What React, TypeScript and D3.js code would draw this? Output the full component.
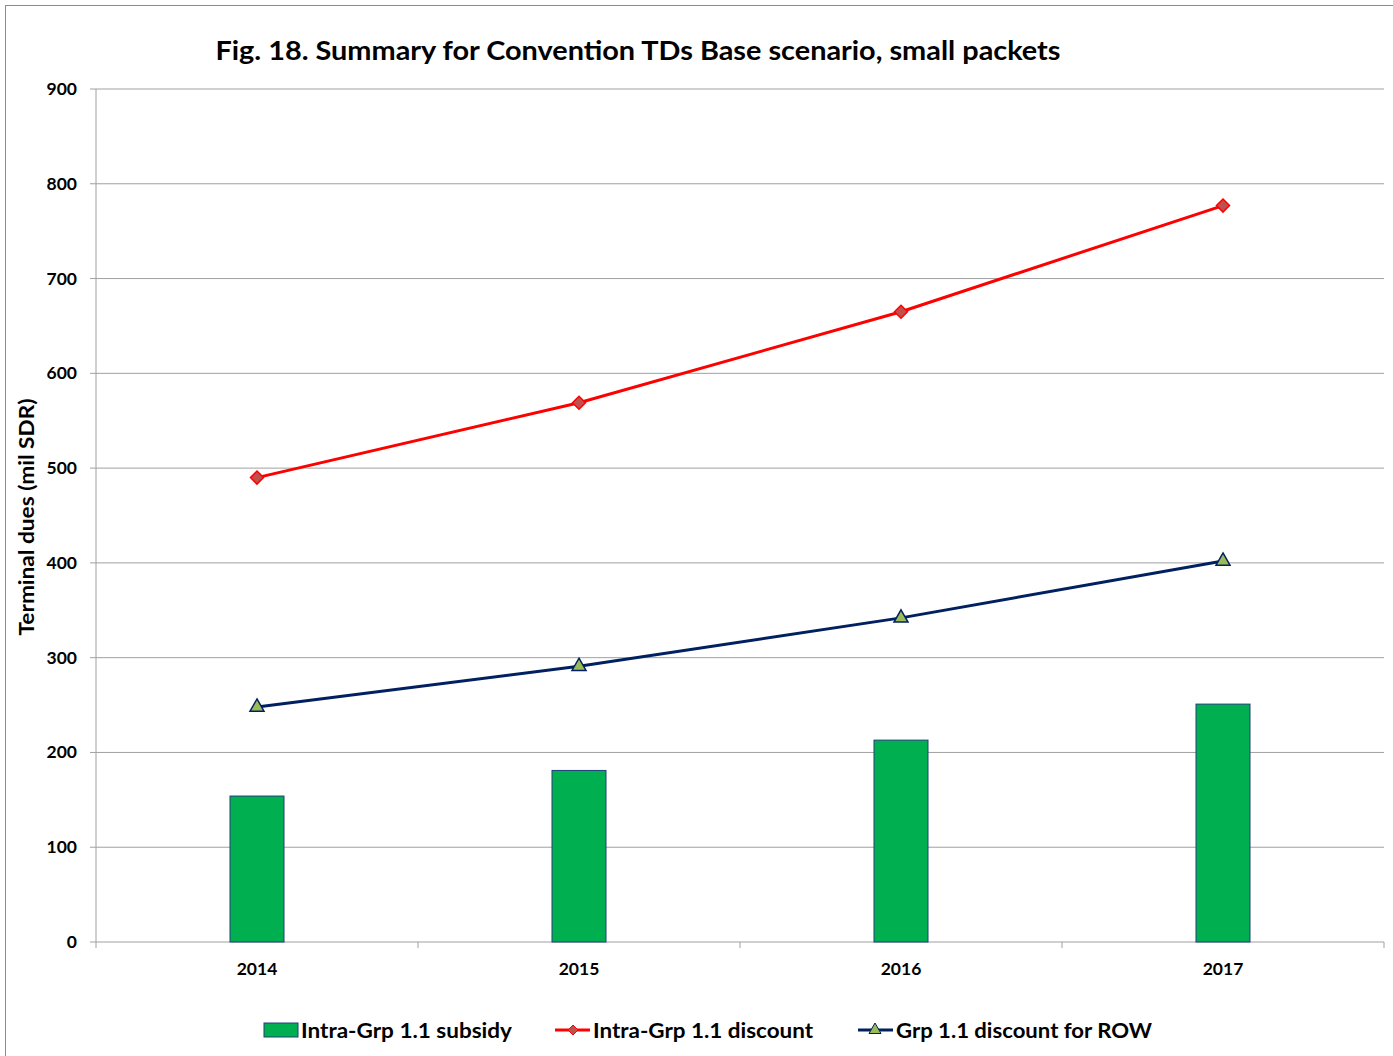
import React from "react";
import * as d3 from "d3";

const years = ["2014", "2015", "2016", "2017"];
const subsidy = [154, 181, 213, 251];
const discount = [490, 569, 665, 777];
const rowDiscount = [248, 291, 342, 402];
const yTicks = [0, 100, 200, 300, 400, 500, 600, 700, 800, 900];

const W = 1393;
const H = 1056;
const FONT = "Lato, 'Open Sans', sans-serif";

export default function App() {
  const left = 96, right = 1384, top = 89, bottom = 942;
  const x = d3.scaleBand().domain(years).range([left, right]);
  const y = d3.scaleLinear().domain([0, 900]).range([bottom, top]);
  const cx = (d: string) => (x(d) as number) + x.bandwidth() / 2;
  const barW = 54;
  const line = d3.line<number>().x((_, i) => cx(years[i])).y((v) => y(v));
  const diamond = (px: number, py: number, r = 6.5) =>
    `M${px},${py - r}L${px + r},${py}L${px},${py + r}L${px - r},${py}Z`;
  const tri = (px: number, py: number, r = 7) =>
    `M${px},${py - r}L${px + r},${py + r * 0.75}L${px - r},${py + r * 0.75}Z`;
  const boundaries = d3.range(years.length + 1).map((i) => left + i * x.bandwidth());

  return (
    <svg width={W} height={H} style={{ position: "absolute", left: 0, top: 0 }}>
      <rect x={0} y={0} width={W} height={H} fill="#fff" />
      <rect x={5.5} y={5.5} width={W + 10} height={H + 10} fill="none" stroke="#8c8c8c" strokeWidth={1} />
      <text x={638} y={60} textAnchor="middle" fontFamily={FONT} fontWeight={700} fontSize={27}
        textLength={845} lengthAdjust="spacingAndGlyphs" fill="#000">
        Fig. 18. Summary for Convention TDs Base scenario, small packets
      </text>
      {yTicks.map((t) => (
        <g key={t}>
          {t > 0 && <line x1={left} x2={right} y1={y(t)} y2={y(t)} stroke="#a0a0a0" strokeWidth={1} />}
          <line x1={90} x2={left} y1={y(t)} y2={y(t)} stroke="#a0a0a0" />
          <text x={77} y={y(t) + 6} textAnchor="end" fontFamily={FONT} fontWeight={700} fontSize={17.5} fill="#000">
            {t}
          </text>
        </g>
      ))}
      <line x1={left} x2={left} y1={top} y2={bottom} stroke="#a0a0a0" />
      <line x1={left} x2={right} y1={bottom} y2={bottom} stroke="#a0a0a0" />
      {boundaries.map((b, i) => (
        <line key={i} x1={b} x2={b} y1={bottom} y2={bottom + 6} stroke="#a0a0a0" />
      ))}
      {years.map((yr) => (
        <text key={yr} x={cx(yr)} y={975} textAnchor="middle" fontFamily={FONT} fontWeight={700} fontSize={17.5} fill="#000">
          {yr}
        </text>
      ))}
      <text transform={`translate(34,517) rotate(-90)`} textAnchor="middle" fontFamily={FONT} fontWeight={700}
        fontSize={20} textLength={237} lengthAdjust="spacingAndGlyphs" fill="#000">
        Terminal dues (mil SDR)
      </text>
      {years.map((yr, i) => (
        <rect key={yr} x={cx(yr) - barW / 2} y={y(subsidy[i])} width={barW} height={bottom - y(subsidy[i])}
          fill="#00b050" stroke="#1f3e78" strokeWidth={1} />
      ))}
      <path d={line(discount) || ""} fill="none" stroke="#ff0000" strokeWidth={3} />
      {discount.map((v, i) => (
        <path key={i} d={diamond(cx(years[i]), y(v))} fill="#c0504d" stroke="#ff0000" strokeWidth={1.5} />
      ))}
      <path d={line(rowDiscount) || ""} fill="none" stroke="#002060" strokeWidth={3} />
      {rowDiscount.map((v, i) => (
        <path key={i} d={tri(cx(years[i]), y(v) - 1)} fill="#9bbb59" stroke="#002060" strokeWidth={1.5} />
      ))}
      {/* legend */}
      <rect x={264} y={1023} width={34} height={14} fill="#00b050" stroke="#1f3e78" />
      <text x={301} y={1038} fontFamily={FONT} fontWeight={700} fontSize={21} textLength={211}
        lengthAdjust="spacingAndGlyphs" fill="#000">Intra-Grp 1.1 subsidy</text>
      <line x1={555} x2={590} y1={1030} y2={1030} stroke="#ff0000" strokeWidth={3} />
      <path d={diamond(573, 1030, 5)} fill="#c0504d" stroke="#ff0000" strokeWidth={1} />
      <text x={593} y={1038} fontFamily={FONT} fontWeight={700} fontSize={21} textLength={220}
        lengthAdjust="spacingAndGlyphs" fill="#000">Intra-Grp 1.1 discount</text>
      <line x1={858} x2={893} y1={1030} y2={1030} stroke="#002060" strokeWidth={3} />
      <path d={tri(875, 1029, 6)} fill="#9bbb59" stroke="#002060" strokeWidth={1} />
      <text x={896} y={1038} fontFamily={FONT} fontWeight={700} fontSize={21} textLength={256}
        lengthAdjust="spacingAndGlyphs" fill="#000">Grp 1.1 discount for ROW</text>
    </svg>
  );
}
